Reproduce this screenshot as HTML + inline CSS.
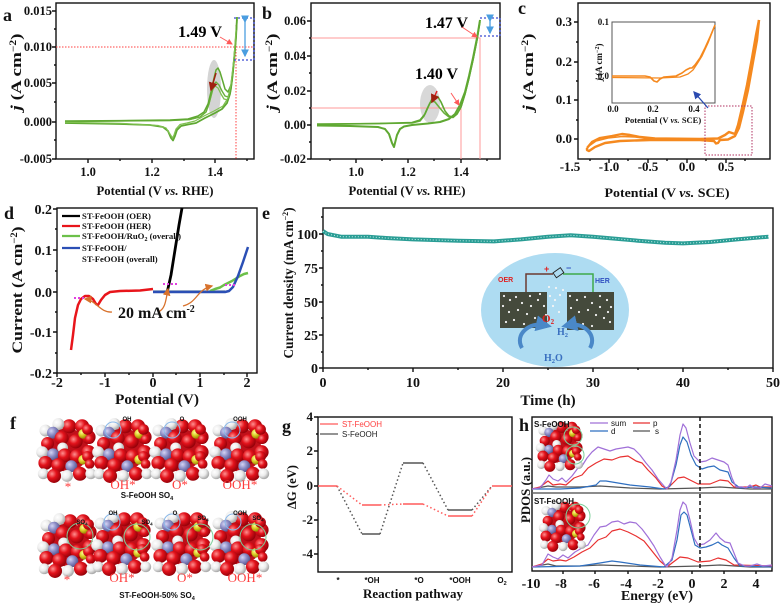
<!DOCTYPE html>
<html><head><meta charset="utf-8"><style>
html,body{margin:0;padding:0;background:#fff;}
svg{display:block;}
</style></head><body>
<svg width="782" height="604" viewBox="0 0 782 604" xmlns="http://www.w3.org/2000/svg">
<defs>
<radialGradient id="gR" cx="0.35" cy="0.35" r="0.7"><stop offset="0" stop-color="#ff9090"/><stop offset="0.45" stop-color="#e3121b"/><stop offset="1" stop-color="#900008"/></radialGradient>
<radialGradient id="gW" cx="0.35" cy="0.35" r="0.7"><stop offset="0" stop-color="#ffffff"/><stop offset="0.5" stop-color="#ececec"/><stop offset="1" stop-color="#a0a0a0"/></radialGradient>
<radialGradient id="gL" cx="0.35" cy="0.35" r="0.7"><stop offset="0" stop-color="#d4d4f4"/><stop offset="0.5" stop-color="#8a8ac4"/><stop offset="1" stop-color="#505088"/></radialGradient>
<radialGradient id="gY" cx="0.35" cy="0.35" r="0.7"><stop offset="0" stop-color="#ffff90"/><stop offset="0.5" stop-color="#d8c820"/><stop offset="1" stop-color="#8a7a00"/></radialGradient>
<marker id="ap" markerWidth="6" markerHeight="6" refX="5" refY="3" orient="auto"><path d="M0,0 L6,3 L0,6 z" fill="#ff5a5a"/></marker>
<marker id="ad" markerWidth="6" markerHeight="6" refX="5" refY="3" orient="auto"><path d="M0,0 L6,3 L0,6 z" fill="#a02010"/></marker>
<marker id="ao" markerWidth="6" markerHeight="6" refX="5" refY="3" orient="auto"><path d="M0,0 L6,3 L0,6 z" fill="#d8722c"/></marker>
<marker id="ab" markerWidth="6" markerHeight="6" refX="5" refY="3" orient="auto"><path d="M0,0 L6,3 L0,6 z" fill="#4a9ee0"/></marker>
<marker id="ab2" markerWidth="6" markerHeight="6" refX="5" refY="3" orient="auto"><path d="M0,0 L6,3 L0,6 z" fill="#2a4ab0"/></marker>
<marker id="abig" markerWidth="4" markerHeight="4" refX="2" refY="2" orient="auto"><path d="M0,0 L4,2 L0,4 z" fill="#4a88c8"/></marker>
<g id="mol">
 <circle cx="0" cy="0" r="20" fill="#c0101a"/>
 <circle cx="2" cy="-22" r="6.5" fill="url(#gR)"/>
 <circle cx="14" cy="-22" r="6.5" fill="url(#gR)"/>
 <circle cx="-8" cy="-24" r="5.5" fill="url(#gW)"/>
 <circle cx="-20" cy="-18" r="5.5" fill="url(#gW)"/>
 <circle cx="-13" cy="-16" r="5.5" fill="url(#gL)"/>
 <circle cx="20" cy="-12" r="6.5" fill="url(#gR)"/>
 <circle cx="-5" cy="-11" r="6.5" fill="url(#gR)"/>
 <circle cx="8" cy="-8" r="6.5" fill="url(#gR)"/>
 <circle cx="-18" cy="-6" r="6" fill="url(#gR)"/>
 <circle cx="-23" cy="2" r="5.5" fill="url(#gW)"/>
 <circle cx="-4" cy="-2" r="5" fill="url(#gW)"/>
 <circle cx="-13" cy="4" r="5.5" fill="url(#gL)"/>
 <circle cx="-2" cy="5" r="6.5" fill="url(#gR)"/>
 <circle cx="9" cy="6" r="6.5" fill="url(#gR)"/>
 <circle cx="15" cy="-15" r="4.5" fill="url(#gY)"/>
 <circle cx="19" cy="-19" r="5" fill="url(#gR)"/>
 <circle cx="21" cy="-10" r="4.5" fill="url(#gR)"/>
 <circle cx="20" cy="2" r="6.5" fill="url(#gR)"/>
 <circle cx="15" cy="9" r="4.5" fill="url(#gY)"/>
 <circle cx="19" cy="6" r="5" fill="url(#gR)"/>
 <circle cx="21" cy="13" r="4.5" fill="url(#gR)"/>
 <circle cx="-20" cy="12" r="6.5" fill="url(#gR)"/>
 <circle cx="-8" cy="14" r="6.5" fill="url(#gR)"/>
 <circle cx="4" cy="15" r="5.5" fill="url(#gL)"/>
 <circle cx="-22" cy="22" r="5" fill="url(#gW)"/>
 <circle cx="-12" cy="24" r="6.5" fill="url(#gR)"/>
 <circle cx="0" cy="24" r="5.5" fill="url(#gW)"/>
 <circle cx="12" cy="22" r="6.5" fill="url(#gR)"/>
 <circle cx="22" cy="22" r="5" fill="url(#gW)"/>
</g>
</defs>

<rect width="782" height="604" fill="#fff"/>

<!-- ================= PANEL A ================= -->
<g font-family="Liberation Serif, serif" font-weight="bold" fill="#111">
<text x="3" y="21" font-size="18">a</text>
<text transform="translate(21,72) rotate(-90)" text-anchor="middle" font-size="15" textLength="77" lengthAdjust="spacingAndGlyphs"><tspan font-style="italic">j</tspan> (A cm<tspan dy="-5" font-size="9">−2</tspan><tspan dy="5">)</tspan></text>
<g font-size="12.5" text-anchor="end">
<text x="52" y="15">0.015</text><text x="52" y="51">0.010</text><text x="52" y="87">0.005</text><text x="52" y="126">0.000</text><text x="52" y="163">-0.005</text>
</g>
<g font-size="12.5" text-anchor="middle">
<text x="88" y="176">1.0</text><text x="152" y="176">1.2</text><text x="215" y="176">1.4</text>
</g>
<text x="155" y="195" font-size="12.5" text-anchor="middle" textLength="117" lengthAdjust="spacingAndGlyphs">Potential (V <tspan font-style="italic">vs.</tspan> RHE)</text>
</g>
<g stroke="#111" stroke-width="1.4" fill="none">
<rect x="56" y="3" width="198" height="156"/>
<path d="M56,11h-4M56,47h-4M56,83h-4M56,122h-4M56,159h-4M56,29h-2M56,65h-2M56,102h-2M56,140h-2"/>
<path d="M88,159v4M152,159v4M215,159v4M120,159v2M184,159v2M247,159v2"/>
</g>
<ellipse cx="214" cy="89" rx="7" ry="29" fill="#d4d4d4"/>
<line x1="56" y1="47" x2="254" y2="47" stroke="#ff4040" stroke-width="1" stroke-dasharray="1.5 1.5"/>
<line x1="236" y1="25" x2="236" y2="159" stroke="#ff4040" stroke-width="1" stroke-dasharray="1.5 1.5"/>
<g fill="none" stroke-linejoin="round">
<path d="M65,121.5 L170,120.5 L190,119.5 L200,117 L206,112 L210,100 L213,89 L215,86 L218,88 L221,94 L224,99 L228,100 L231,90 L233,74 L235,52 L237,22" stroke="#7fc050" stroke-width="1.3"/>
<path d="M65,121.5 L170,120.5 L190,119.5 L200,117 L206,112 L209,104 L212,92 L214,84 L216,82 L219,85 L222,91 L225,96 L228,97 L231,88 L233,72 L235,50 L237,20" stroke="#6ab03c" stroke-width="1.4"/>
<path d="M65,121 L120,120.6 L170,120 L188,119 L198,116 L204,112 L208,104 L211,92 L214,78 L216,70 L218,68 L220,72 L223,82 L225,89 L228,92 L231,85 L233,70 L235,48 L236.5,28 L237,17" stroke="#5fa832" stroke-width="1.5"/>
<path d="M237,17 L236,38 L234,60 L232,80 L230,94 L227,103 L222,109 L215,113 L205,118 L196,123 L188,124.5 L181,126 L177,130 L175,136 L173,140.5 L171,138 L168,131 L163,127 L150,125 L120,124 L65,123" stroke="#5fa832" stroke-width="1.8"/>
<path d="M236,30 L234,58 L231,84 L228,98 L223,106 L214,111 L204,116 L195,121 L187,123 L180,124.5 L176,129 L174,135 L172.5,138 L170,134 L166,128 L158,125.5 L120,123.3 L65,122.3" stroke="#7fc050" stroke-width="1.2"/>
</g>
<line x1="216" y1="73" x2="211" y2="90" stroke="#a02010" stroke-width="1.5" marker-end="url(#ad)"/>
<text x="178" y="37" font-family="Liberation Serif, serif" font-weight="bold" font-size="15.5" textLength="44" lengthAdjust="spacingAndGlyphs">1.49 V</text>
<line x1="220" y1="37" x2="232" y2="44" stroke="#ff5a5a" stroke-width="1" marker-end="url(#ap)"/>
<g stroke="#3a4ad0" stroke-width="1.3" stroke-dasharray="2 2" fill="none">
<path d="M234,18H254M234,60H254M254,18V60"/>
</g>
<line x1="245" y1="22" x2="245" y2="56" stroke="#4a9ee0" stroke-width="1.3" marker-end="url(#ab)" marker-start="url(#ab)"/>

<!-- ================= PANEL B ================= -->
<g font-family="Liberation Serif, serif" font-weight="bold" fill="#111">
<text x="262" y="19" font-size="18">b</text>
<text transform="translate(277,72) rotate(-90)" text-anchor="middle" font-size="15" textLength="77" lengthAdjust="spacingAndGlyphs"><tspan font-style="italic">j</tspan> (A cm<tspan dy="-5" font-size="9">−2</tspan><tspan dy="5">)</tspan></text>
<g font-size="12.5" text-anchor="end">
<text x="306" y="25">0.06</text><text x="306" y="60">0.04</text><text x="306" y="95">0.02</text><text x="306" y="129">0.00</text><text x="306" y="163">-0.02</text>
</g>
<g font-size="12.5" text-anchor="middle">
<text x="356" y="176">1.0</text><text x="408" y="176">1.2</text><text x="461" y="176">1.4</text>
</g>
<text x="407" y="195" font-size="12.5" text-anchor="middle" textLength="117" lengthAdjust="spacingAndGlyphs">Potential (V <tspan font-style="italic">vs.</tspan> RHE)</text>
</g>
<g stroke="#111" stroke-width="1.4" fill="none">
<rect x="311" y="3" width="189" height="156"/>
<path d="M311,21h-4M311,56h-4M311,91h-4M311,125h-4M311,159h-4M311,38h-2M311,73h-2M311,108h-2M311,142h-2"/>
<path d="M356,159v4M408,159v4M461,159v4M330,159v2M382,159v2M434,159v2M487,159v2"/>
</g>
<ellipse cx="430" cy="104" rx="10" ry="19" fill="#d8d8d8"/>
<g stroke="#ff9a9a" stroke-width="1" fill="none">
<path d="M311,108H461V159"/>
<path d="M311,38H480V159"/>
</g>
<g fill="none" stroke-linejoin="round">
<path d="M317,124.5 L412,123 L420,121 L424,116 L427,109 L430,103 L432,101 L435,102 L439,107 L444,113 L449,117 L453,117.5 L457,114 L461,107 L465,94 L469,78 L473,60 L477,40 L480,22" stroke="#6ab03c" stroke-width="1.6"/>
<path d="M317,124 L380,123.5 L412,122.5 L420,120 L425,114 L429,105 L432,99 L435,96 L438,97 L441,102 L445,111 L449,116 L453,117 L457,114 L461,107 L465,94 L469,78 L473,60 L477,40 L480,20" stroke="#5fa832" stroke-width="1.6"/>
<path d="M480,20 L477,38 L473,58 L469,76 L465,92 L460,105 L455,114 L449,119 L440,122 L428,123.5 L412,125 L404,126.5 L400,129 L397,135 L395,143 L394,147 L392,143 L389,134 L385,129 L378,127 L350,126 L317,125.5" stroke="#5fa832" stroke-width="2"/>
</g>
<line x1="437" y1="91" x2="432" y2="102" stroke="#e02020" stroke-width="1.5" marker-end="url(#ad)"/>
<text x="415" y="79" font-family="Liberation Serif, serif" font-weight="bold" font-size="15.5" textLength="43" lengthAdjust="spacingAndGlyphs">1.40 V</text>
<line x1="451" y1="93" x2="459" y2="105" stroke="#ff5a5a" stroke-width="1" marker-end="url(#ap)"/>
<text x="425" y="28" font-family="Liberation Serif, serif" font-weight="bold" font-size="15.5" textLength="43" lengthAdjust="spacingAndGlyphs">1.47 V</text>
<line x1="462" y1="27" x2="477" y2="37" stroke="#ff5a5a" stroke-width="1" marker-end="url(#ap)"/>
<g stroke="#3a4ad0" stroke-width="1.3" stroke-dasharray="2 2" fill="none">
<path d="M480,18H500M480,36H500M500,18V36"/>
</g>
<line x1="490" y1="21" x2="490" y2="33" stroke="#4a9ee0" stroke-width="1.3" marker-end="url(#ab)" marker-start="url(#ab)"/>

<!-- ================= PANEL C ================= -->
<g font-family="Liberation Serif, serif" font-weight="bold" fill="#111">
<text x="518" y="14" font-size="18">c</text>
<text transform="translate(533,72) rotate(-90)" text-anchor="middle" font-size="15" textLength="77" lengthAdjust="spacingAndGlyphs"><tspan font-style="italic">j</tspan> (A cm<tspan dy="-5" font-size="9">−2</tspan><tspan dy="5">)</tspan></text>
<g font-size="13" text-anchor="end">
<text x="572" y="26">0.3</text><text x="572" y="66">0.2</text><text x="572" y="104">0.1</text><text x="572" y="143">0.0</text>
</g>
<g font-size="13" text-anchor="middle">
<text x="570" y="171">-1.5</text><text x="609" y="171">-1.0</text><text x="648" y="171">-0.5</text><text x="687" y="171">0.0</text><text x="726" y="171">0.5</text>
</g>
<text x="667" y="197" font-size="13" text-anchor="middle" textLength="125" lengthAdjust="spacingAndGlyphs">Potential (V <tspan font-style="italic">vs.</tspan> SCE)</text>
</g>
<g stroke="#111" stroke-width="1.4" fill="none">
<rect x="578" y="3" width="192" height="156"/>
<path d="M578,22h-4M578,62h-4M578,100h-4M578,139h-4M578,42h-2M578,81h-2M578,120h-2"/>
<path d="M609,159v4M648,159v4M687,159v4M726,159v4M590,159v2M628,159v2M667,159v2M706,159v2M745,159v2"/>
</g>
<rect x="612" y="22" width="103" height="81" fill="#fff" stroke="#555" stroke-width="1"/>
<g font-family="Liberation Serif, serif" font-weight="bold" fill="#111" font-size="9">
<text x="609" y="25" text-anchor="end">0.1</text>
<text x="609" y="79" text-anchor="end">0.0</text>
<text transform="translate(602,62) rotate(-90)" text-anchor="middle" font-size="9"><tspan font-style="italic">j</tspan> (A cm<tspan dy="-3" font-size="6">−2</tspan><tspan dy="3">)</tspan></text>
<text x="613" y="112" text-anchor="middle">0.0</text>
<text x="653" y="112" text-anchor="middle">0.2</text>
<text x="694" y="112" text-anchor="middle">0.4</text>
<text x="663" y="123" text-anchor="middle" font-size="8.5">Potential (V <tspan font-style="italic">vs.</tspan> SCE)</text>
</g>
<g fill="none" stroke="#f5891f" stroke-linejoin="round">
<path d="M612,76 L645,76 L650,77 L654,81 L657,82 L660,79 L664,77 L676,76 L682,73 L686,70 L690,68 L692,68 L695,65 L700,58 L705,48 L710,37 L715,25" stroke-width="1.6"/>
<path d="M715,25 L708,43 L702,56 L697,64 L693,70 L688,74 L680,77 L660,78 L612,77.5" stroke-width="1.3"/>
<path d="M587,148 L592,142 L600,138 L612,136 L622,134 L630,135 L640,137 L655,138.5 L700,139 L718,138.5 L725,135 L729,132 L732,133 L735,134 L738,125 L742,108 L747,85 L752,58 L756,35 L759,20" stroke-width="2.4"/>
<path d="M759,20 L757,40 L753,62 L748,90 L743,112 L739,128 L735,136 L728,139.5 L720,140 L718,143 L716,143.5 L714,141 L700,140 L650,140 L620,141 L605,143 L595,147 L589,151 L587,150 L587,148" stroke-width="2.4"/>
<path d="M589,146 L596,141 L608,138 L622,136.5 L635,137 L650,139" stroke-width="1.5"/>
</g>
<rect x="705" y="106" width="47" height="49" fill="none" stroke="#b03060" stroke-width="1" stroke-dasharray="1.5 1.5"/>
<line x1="708" y1="108" x2="694" y2="92" stroke="#2a4ab0" stroke-width="1.3" marker-end="url(#ab2)"/>

<!-- ================= PANEL D ================= -->
<g font-family="Liberation Serif, serif" font-weight="bold" fill="#111">
<text x="4" y="219" font-size="18">d</text>
<text transform="translate(22,290) rotate(-90)" text-anchor="middle" font-size="15" textLength="127" lengthAdjust="spacingAndGlyphs">Current (A cm<tspan dy="-5" font-size="9">−2</tspan><tspan dy="5">)</tspan></text>
<g font-size="14" text-anchor="end">
<text x="52" y="214">0.2</text><text x="52" y="255">0.1</text><text x="52" y="297">0.0</text><text x="52" y="337">-0.1</text><text x="52" y="378">-0.2</text>
</g>
<g font-size="14" text-anchor="middle">
<text x="57" y="387">-2</text><text x="105" y="387">-1</text><text x="153" y="387">0</text><text x="200" y="387">1</text><text x="247" y="387">2</text>
</g>
<text x="157" y="404" font-size="15" text-anchor="middle" textLength="84" lengthAdjust="spacingAndGlyphs">Potential (V)</text>
</g>
<g stroke="#111" stroke-width="1.4" fill="none">
<rect x="57" y="208" width="200" height="165"/>
<path d="M57,209h-4M57,250h-4M57,292h-4M57,332h-4M57,373h-4M57,229h-2M57,271h-2M57,312h-2M57,353h-2"/>
<path d="M57,373v4M105,373v4M153,373v4M200,373v4M247,373v4M81,373v2M129,373v2M176,373v2M224,373v2"/>
</g>
<g stroke-width="2.5" fill="none" stroke-linejoin="round">
<path d="M153,291.5 L225,291.5" stroke="#8aa0b0"/>
<path d="M210,291 L215,289 L220,287.5 L224,285 L228,283 L232,281 L236,278.5 L240,276 L244,274 L248,273" stroke="#6cc04a"/>
<path d="M153,292 L225,292 L229,291 L233,287 L238,276 L243,262 L248,247" stroke="#2b4fb5"/>
<path d="M71,350 L73,335 L75,318 L78,305 L81,299 L85,296 L89,296 L93,299 L96,304 L98,305 L101,300 L105,295 L110,292 L120,291 L140,290.5 L153,289" stroke="#e8151b"/>
<path d="M167,293 L171,275 L175,250 L179,225 L182,208" stroke="#000" stroke-width="2.8"/>
</g>
<g stroke="#e040e0" stroke-width="2" stroke-dasharray="2 2">
<line x1="74" y1="298" x2="84" y2="298"/>
<line x1="163" y1="284" x2="177" y2="284"/>
<line x1="225" y1="285" x2="236" y2="285"/>
</g>
<g fill="none" stroke="#d8722c" stroke-width="1.3">
<path d="M112,312 C100,313 96,300 85,299" marker-end="url(#ao)"/>
<path d="M158,312 C166,309 166,298 168,289" marker-end="url(#ao)"/>
<path d="M183,306 C198,302 196,290 212,286" marker-end="url(#ao)"/>
</g>
<text x="118" y="318" font-family="Liberation Serif, serif" font-weight="bold" font-size="16" fill="#111">20 mA cm<tspan dy="-6" font-size="10">-2</tspan></text>
<g font-family="Liberation Serif, serif" font-weight="bold" font-size="8.7" fill="#111">
<line x1="62" y1="216" x2="80" y2="216" stroke="#000" stroke-width="2.2"/>
<text x="82" y="219">ST-FeOOH (OER)</text>
<line x1="62" y1="226" x2="80" y2="226" stroke="#e8151b" stroke-width="2.2"/>
<text x="82" y="229">ST-FeOOH (HER)</text>
<line x1="62" y1="236" x2="80" y2="236" stroke="#6cc04a" stroke-width="2.2"/>
<text x="82" y="239">ST-FeOOH/RuO<tspan dy="2" font-size="6">2</tspan><tspan dy="-2"> (overall)</tspan></text>
<line x1="62" y1="248" x2="80" y2="248" stroke="#2b4fb5" stroke-width="2.2"/>
<text x="82" y="251">ST-FeOOH/</text>
<text x="82" y="262">ST-FeOOH (overall)</text>
</g>

<!-- ================= PANEL E ================= -->
<g font-family="Liberation Serif, serif" font-weight="bold" fill="#111">
<text x="262" y="219" font-size="18">e</text>
<text transform="translate(293,283) rotate(-90)" text-anchor="middle" font-size="13.5" textLength="151" lengthAdjust="spacingAndGlyphs">Current density (mA cm<tspan dy="-5" font-size="8">−2</tspan><tspan dy="5">)</tspan></text>
<g font-size="14" text-anchor="end">
<text x="318" y="239">100</text><text x="318" y="273">75</text><text x="318" y="307">50</text><text x="318" y="340">25</text><text x="318" y="373">0</text>
</g>
<g font-size="14" text-anchor="middle">
<text x="323" y="387">0</text><text x="413" y="387">10</text><text x="503" y="387">20</text><text x="593" y="387">30</text><text x="683" y="387">40</text><text x="773" y="387">50</text>
</g>
<text x="548" y="405" font-size="15" text-anchor="middle">Time (h)</text>
</g>
<g stroke="#111" stroke-width="1.4" fill="none">
<rect x="323" y="208" width="450" height="160"/>
<path d="M323,234h-4M323,268h-4M323,302h-4M323,335h-4M323,368h-4M323,217h-2M323,251h-2M323,285h-2M323,318h-2M323,352h-2"/>
<path d="M323,368v4M413,368v4M503,368v4M593,368v4M683,368v4M773,368v4M368,368v2M458,368v2M548,368v2M638,368v2M728,368v2"/>
</g>
<path d="M323,231 L327.5,234 L341,236.7 L368,236.7 L386,238 L413,239.4 L458,240.7 L494,241.4 L521,239.4 L548,236.7 L570.5,235.3 L593,236.7 L638,240.7 L665,242.7 L683,243.4 L710,242 L737,239.4 L768.5,236.7" fill="none" stroke="#2a9d95" stroke-width="4" stroke-linejoin="round"/>
<path d="M323,231 L327.5,234 L341,236.7 L368,236.7 L386,238 L413,239.4 L458,240.7 L494,241.4 L521,239.4 L548,236.7 L570.5,235.3 L593,236.7 L638,240.7 L665,242.7 L683,243.4 L710,242 L737,239.4 L768.5,236.7" fill="none" stroke="#c8f0ec" stroke-width="1" stroke-dasharray="1 2"/>
<!-- inset schematic -->
<ellipse cx="555" cy="310" rx="74" ry="57" fill="#aedcf2"/>
<rect x="500" y="292" width="47" height="36" fill="#454a3c"/>
<rect x="567" y="292" width="47" height="38" fill="#454a3c"/>
<g fill="#f4f4f4">
<circle cx="504" cy="296" r="1.1"/><circle cx="510" cy="300" r="1.1"/><circle cx="516" cy="297" r="1.1"/><circle cx="522" cy="303" r="1.1"/><circle cx="530" cy="296" r="1.1"/><circle cx="538" cy="300" r="1.1"/><circle cx="544" cy="306" r="1.1"/><circle cx="503" cy="306" r="1.1"/><circle cx="509" cy="312" r="1.1"/><circle cx="518" cy="310" r="1.1"/><circle cx="527" cy="314" r="1.1"/><circle cx="535" cy="318" r="1.1"/><circle cx="541" cy="322" r="1.1"/><circle cx="506" cy="322" r="1.1"/><circle cx="514" cy="320" r="1.1"/><circle cx="524" cy="324" r="1.1"/><circle cx="531" cy="306" r="1.1"/><circle cx="540" cy="294" r="1.1"/><circle cx="546" cy="315" r="1.1"/>
<circle cx="570" cy="296" r="1.1"/><circle cx="577" cy="300" r="1.1"/><circle cx="585" cy="297" r="1.1"/><circle cx="592" cy="303" r="1.1"/><circle cx="600" cy="296" r="1.1"/><circle cx="607" cy="300" r="1.1"/><circle cx="611" cy="307" r="1.1"/><circle cx="571" cy="308" r="1.1"/><circle cx="579" cy="312" r="1.1"/><circle cx="588" cy="310" r="1.1"/><circle cx="596" cy="315" r="1.1"/><circle cx="604" cy="318" r="1.1"/><circle cx="610" cy="322" r="1.1"/><circle cx="574" cy="322" r="1.1"/><circle cx="583" cy="324" r="1.1"/><circle cx="592" cy="326" r="1.1"/><circle cx="600" cy="307" r="1.1"/><circle cx="608" cy="312" r="1.1"/>
<circle cx="550" cy="296" r="1.1"/><circle cx="555" cy="300" r="1.1"/><circle cx="560" cy="295" r="1.1"/><circle cx="553" cy="306" r="1.1"/><circle cx="559" cy="312" r="1.1"/><circle cx="549" cy="287" r="1.1"/><circle cx="556" cy="288" r="1.1"/><circle cx="563" cy="290" r="1.1"/>
</g>
<polyline points="526,292 526,274 553,274" fill="none" stroke="#6b3a30" stroke-width="1.5"/>
<polyline points="563,274 593,274 593,292" fill="none" stroke="#3faa4a" stroke-width="1.5"/>
<rect x="554" y="270" width="9" height="6" fill="none" stroke="#222" stroke-width="0.9" transform="rotate(-35 558 273)"/>
<text x="544" y="272" font-family="Liberation Sans, sans-serif" font-weight="bold" font-size="9" fill="#e02020">+</text>
<text x="566" y="271" font-family="Liberation Sans, sans-serif" font-weight="bold" font-size="9" fill="#3050c0">−</text>
<text x="498" y="282" font-family="Liberation Sans, sans-serif" font-weight="bold" font-size="7" fill="#e02020">OER</text>
<text x="595" y="283" font-family="Liberation Sans, sans-serif" font-weight="bold" font-size="7" fill="#3050c0">HER</text>
<path d="M522,348 C514,334 530,322 544,325" fill="none" stroke="#4a88c8" stroke-width="4" marker-end="url(#abig)"/>
<path d="M590,348 C598,334 582,322 569,325" fill="none" stroke="#4a88c8" stroke-width="4" marker-end="url(#abig)"/>
<g font-family="Liberation Serif, serif" font-weight="bold">
<text x="542" y="322" font-size="11" fill="#e02020">O<tspan dy="2" font-size="7">2</tspan></text>
<text x="557" y="335" font-size="10" fill="#3a70c0">H<tspan dy="2" font-size="6.5">2</tspan></text>
<text x="544" y="361" font-size="10" fill="#3a70c0">H<tspan dy="2" font-size="6.5">2</tspan><tspan dy="-2">O</tspan></text>
</g>

<!-- ================= PANEL F ================= -->
<text x="10" y="429" font-family="Liberation Serif, serif" font-weight="bold" font-size="18" fill="#111">f</text>
<use href="#mol" transform="translate(67,450) scale(1.08)"/>
<use href="#mol" transform="translate(123,450) scale(1.08)"/>
<use href="#mol" transform="translate(180,450) scale(1.08)"/>
<use href="#mol" transform="translate(240,450) scale(1.08)"/>
<use href="#mol" transform="translate(68,545) scale(1.08)"/>
<use href="#mol" transform="translate(122,543) scale(1.08)"/>
<use href="#mol" transform="translate(182,543) scale(1.08)"/>
<use href="#mol" transform="translate(240,543) scale(1.08)"/>
<g fill="none" stroke="#8ab8e8" stroke-width="1">
<circle cx="113" cy="430" r="8"/><circle cx="172" cy="430" r="8"/><circle cx="232" cy="430" r="8"/>
<circle cx="112" cy="522" r="8"/><circle cx="172" cy="522" r="8"/><circle cx="233" cy="522" r="8"/>
</g>
<g fill="none" stroke="#7ccf9a" stroke-width="1">
<circle cx="80" cy="536" r="13"/><circle cx="137" cy="537" r="13"/><circle cx="200" cy="537" r="13"/><circle cx="253" cy="537" r="13"/>
</g>
<g font-family="Liberation Serif, serif" font-size="13" fill="#ff3b3b" text-anchor="middle">
<text x="68" y="491">*</text><text x="123" y="489">OH*</text><text x="180" y="489">O*</text><text x="240" y="489">OOH*</text>
<text x="67" y="584">*</text><text x="122" y="582">OH*</text><text x="185" y="582">O*</text><text x="245" y="582">OOH*</text>
</g>
<g font-family="Liberation Sans, sans-serif" font-weight="bold" fill="#111" text-anchor="middle">
<text x="147" y="498" font-size="8">S-FeOOH SO<tspan dy="2" font-size="5.5">4</tspan></text>
<text x="157" y="598" font-size="8">ST-FeOOH-50% SO<tspan dy="2" font-size="5.5">4</tspan></text>
<g font-size="6">
<text x="127" y="421">OH</text><text x="182" y="421">O</text><text x="240" y="421">OOH</text>
<text x="82" y="524">SO<tspan dy="1.5" font-size="4.5">4</tspan></text>
<text x="113" y="515">OH</text>
<text x="147" y="524">SO<tspan dy="1.5" font-size="4.5">4</tspan></text>
<text x="175" y="515">O</text>
<text x="203" y="520">SO<tspan dy="1.5" font-size="4.5">4</tspan></text>
<text x="240" y="515">OOH</text>
<text x="258" y="520">SO<tspan dy="1.5" font-size="4.5">4</tspan></text>
</g>
</g>

<!-- ================= PANEL G ================= -->
<g font-family="Liberation Serif, serif" font-weight="bold" fill="#111">
<text x="282" y="432" font-size="18">g</text>
<text transform="translate(296,487) rotate(-90)" text-anchor="middle" font-size="13" textLength="44" lengthAdjust="spacingAndGlyphs">ΔG (eV)</text>
<g font-size="13" text-anchor="end">
<text x="313" y="421">4</text><text x="313" y="455">2</text><text x="313" y="490">0</text><text x="313" y="524">-2</text><text x="313" y="558">-4</text>
</g>
<text x="413" y="598" font-size="13" text-anchor="middle" textLength="100" lengthAdjust="spacingAndGlyphs">Reaction pathway</text>
</g>
<g stroke="#111" stroke-width="1.4" fill="none">
<rect x="318" y="417" width="194" height="155"/>
<path d="M318,417h-4M318,451h-4M318,486h-4M318,520h-4M318,554h-4M318,434h-2M318,468h-2M318,503h-2M318,537h-2"/>
</g>
<g font-family="Liberation Sans, sans-serif" font-weight="bold" font-size="8" fill="#111" text-anchor="middle">
<text x="338" y="583">*</text><text x="372" y="583">*OH</text><text x="419" y="583">*O</text><text x="460" y="583">*OOH</text><text x="502" y="583">O<tspan dy="2" font-size="5.5">2</tspan></text>
</g>
<g stroke-width="1.6" fill="none">
<path d="M362,534H380M403,463H423M448,510H472" stroke="#555"/>
<path d="M318,486H337M362,505H380M403,504H423M448,516H472M492,486H512" stroke="#ff5a5a"/>
</g>
<g stroke-width="1.5" fill="none" stroke-dasharray="1.5 2.5">
<path d="M337,486L362,534M380,534L403,463M423,463L448,510M472,510L492,486" stroke="#555"/>
<path d="M337,486L362,505M380,505L403,504M423,504L448,516M472,516L492,486" stroke="#ff5a5a"/>
</g>
<line x1="320" y1="424" x2="338" y2="424" stroke="#ff5a5a" stroke-width="1.3"/>
<text x="342" y="427" font-family="Liberation Sans, sans-serif" font-size="8" fill="#ff4040">ST-FeOOH</text>
<line x1="320" y1="434" x2="338" y2="434" stroke="#555" stroke-width="1.3"/>
<text x="342" y="437" font-family="Liberation Sans, sans-serif" font-size="8" fill="#222">S-FeOOH</text>

<!-- ================= PANEL H ================= -->
<g font-family="Liberation Serif, serif" font-weight="bold" fill="#111">
<text x="519" y="431" font-size="18">h</text>
<text transform="translate(530,490) rotate(-90)" text-anchor="middle" font-size="13" textLength="66" lengthAdjust="spacingAndGlyphs">PDOS (a.u.)</text>
<g font-size="14" text-anchor="middle">
<text x="531" y="588">-10</text><text x="561" y="588">-8</text><text x="594" y="588">-6</text><text x="626" y="588">-4</text><text x="658" y="588">-2</text><text x="692" y="588">0</text><text x="724" y="588">2</text><text x="756" y="588">4</text>
</g>
<text x="657" y="600" font-size="14" text-anchor="middle" textLength="72" lengthAdjust="spacingAndGlyphs">Energy (eV)</text>
</g>
<g stroke="#111" stroke-width="1.4" fill="none">
<rect x="532" y="417" width="240" height="154"/>
<line x1="532" y1="493" x2="772" y2="493" stroke="#666"/>
<path d="M563,571v3M595,571v3M628,571v3M660,571v3M692,571v3M724,571v3M756,571v3"/>
</g>
<g fill="none" stroke-width="1.2" stroke-linejoin="round">
<path d="M532,489 L548,486 L556,487 L580,487 L600,486 L630,488 L660,489 L700,488 L720,487 L750,489 L772,489" stroke="#555"/>
<path d="M532,489 L540,487 L548,481 L553,485 L560,484 L566,485 L574,478 L582,475 L588,468 L596,463 L604,459 L612,460 L620,457 L628,456 L636,461 L642,463 L648,470 L656,478 L662,486 L667,489 L672,484 L678,478 L684,477 L690,480 L698,484 L710,484 L720,480 L728,481 L734,487 L750,487 L756,485 L760,487 L772,487" stroke="#e83030"/>
<path d="M532,489 L560,489 L580,488 L596,485 L600,481 L606,481 L612,482 L630,485 L650,487 L664,489 L670,486 L676,465 L680,445 L683,437 L687,442 L691,455 L696,465 L702,469 L708,467 L714,466 L720,470 L728,472 L732,482 L740,488 L755,487 L772,488" stroke="#2f6fc0"/>
<path d="M532,489 L540,488 L546,480 L549,475 L553,479 L558,481 L562,478 L566,482 L572,476 L578,468 L582,466 L587,458 L592,452 L598,447 L604,449 L610,451 L616,449 L622,448 L628,447 L634,449 L640,455 L646,463 L652,470 L658,479 L664,486 L667,489 L671,482 L676,460 L680,435 L683,424 L686,428 L690,443 L694,456 L700,462 L706,461 L712,458 L718,460 L724,462 L728,465 L732,478 L736,487 L742,487 L746,488 L750,485 L754,488 L760,488 L765,484 L772,486" stroke="#a070d8"/>
<path d="M532,567 L548,564 L556,566 L580,566 L600,565 L630,566 L660,567 L700,566 L720,565 L750,567 L772,567" stroke="#555"/>
<path d="M532,567 L542,564 L548,559 L553,561 L560,560 L566,561 L574,557 L582,552 L590,548 L598,540 L606,537 L612,531 L620,529 L628,532 L636,536 L644,541 L652,551 L660,561 L667,567 L672,563 L680,557 L688,558 L698,562 L710,561 L718,558 L726,560 L734,565 L772,566" stroke="#e83030"/>
<path d="M532,567 L580,566 L600,563 L612,561 L620,562 L640,565 L664,567 L672,560 L677,540 L681,515 L684,512 L687,515 L691,530 L695,545 L700,548 L706,547 L712,545 L718,542 L722,545 L728,548 L734,558 L740,566 L772,567" stroke="#2f6fc0"/>
<path d="M532,567 L542,565 L548,554 L553,557 L558,559 L563,555 L568,558 L575,552 L582,548 L588,545 L594,535 L600,527 L606,526 L612,522 L618,521 L624,524 L630,522 L636,523 L642,529 L648,537 L654,546 L660,557 L665,565 L667,567 L672,558 L677,530 L680,510 L683,502 L686,505 L690,520 L694,538 L698,545 L704,544 L710,540 L716,533 L720,538 L725,542 L730,543 L734,553 L738,563 L745,566 L750,566 L757,564 L763,566 L772,565" stroke="#a070d8"/>
</g>
<line x1="700" y1="417" x2="700" y2="571" stroke="#111" stroke-width="1.5" stroke-dasharray="4 3"/>
<use href="#mol" transform="translate(560,446) scale(0.85)"/>
<use href="#mol" transform="translate(563,526) scale(0.85)"/>
<g fill="none" stroke="#7ccf9a" stroke-width="1">
<circle cx="573" cy="436" r="9"/><circle cx="575" cy="455" r="9"/><circle cx="578" cy="516" r="12"/>
</g>
<g font-family="Liberation Sans, sans-serif" font-weight="bold" font-size="8" fill="#111">
<text x="534" y="427">S-FeOOH</text>
<text x="534" y="504">ST-FeOOH</text>
</g>
<g font-family="Liberation Sans, sans-serif" font-size="8" fill="#111">
<line x1="590" y1="423" x2="608" y2="423" stroke="#a070d8" stroke-width="1.3"/><text x="611" y="426">sum</text>
<line x1="633" y1="423" x2="650" y2="423" stroke="#e83030" stroke-width="1.3"/><text x="653" y="426">p</text>
<line x1="590" y1="431" x2="608" y2="431" stroke="#2f6fc0" stroke-width="1.3"/><text x="611" y="434">d</text>
<line x1="633" y1="431" x2="650" y2="431" stroke="#555" stroke-width="1.3"/><text x="655" y="434">s</text>
</g>
</svg>
</body></html>
